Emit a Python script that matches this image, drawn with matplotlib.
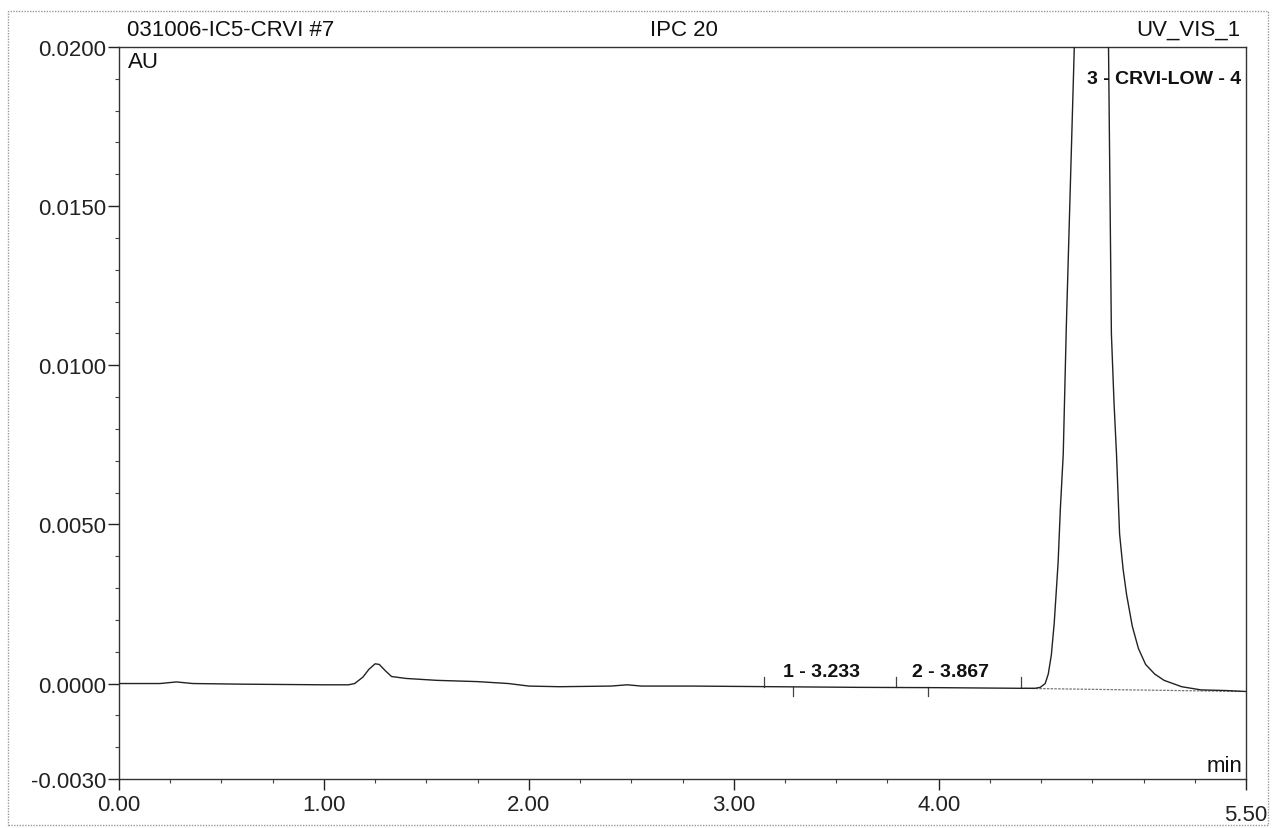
import numpy as np
import matplotlib.pyplot as plt
from matplotlib.patches import Rectangle
from matplotlib.ticker import MultipleLocator, FixedLocator

plt.rcParams['font.family'] = ['Liberation Sans', 'DejaVu Sans']

# Chromatogram trace (time in min, absorbance in AU)
time_min = [0.00, 0.20, 0.28, 0.36, 0.60, 1.00, 1.12, 1.15, 1.19, 1.22, 1.25,
            1.27, 1.30, 1.33, 1.40, 1.55, 1.75, 1.90, 2.00, 2.15, 2.40, 2.48,
            2.55, 2.80, 3.20, 3.60, 4.00, 4.40, 4.47, 4.496, 4.52, 4.535,
            4.55, 4.564, 4.583, 4.594, 4.608, 4.623, 4.662, 4.70, 4.745, 4.79,
            4.829, 4.843, 4.856, 4.868, 4.883, 4.90, 4.917, 4.945, 4.975,
            5.01, 5.054, 5.10, 5.186, 5.28, 5.40, 5.50]
signal_au = [0.0, 0.0, 0.00005, 0.0, -0.00002, -0.00004, -0.00004, 0.0,
             0.0002, 0.00045, 0.00062, 0.00060, 0.0004, 0.00022, 0.00016,
             0.0001, 0.00006, 0.0, -0.00008, -0.0001, -0.00008, -0.00004,
             -0.00008, -0.00008, -0.0001, -0.00012, -0.00013, -0.00015,
             -0.00015, -0.00012, 0.0, 0.0003, 0.0009, 0.0019, 0.0038, 0.0055,
             0.0072, 0.0112, 0.0200, 0.035, 0.042, 0.035, 0.0200, 0.0110,
             0.0088, 0.0072, 0.0047, 0.0036, 0.0028, 0.0018, 0.0011, 0.0006,
             0.0003, 0.0001, -0.0001, -0.0002, -0.00022, -0.00025]

# Peak annotations
peak_labels = ['1 - 3.233', '2 - 3.867']
peak_label_x = [3.43, 4.06]
peak_bounds = [3.15, 3.79, 4.40]
peak_marks = [3.29, 3.95]
big_peak_label = '3 - CRVI-LOW - 4'
big_peak_x = 4.726
big_peak_baseline = (4.40, 5.48, -0.00015, -0.00025)

fig = plt.figure(figsize=(12.73, 8.29), dpi=100)
ax = fig.add_axes([0.0935, 0.0591, 0.8853, 0.8830])

ax.plot(time_min, signal_au, color='#222222', linewidth=1.0, zorder=3)

# integration baseline of the big peak
b = big_peak_baseline
ax.plot([b[0], b[1]], [b[2], b[3]], color='#777777', linewidth=0.9,
        linestyle=(0, (2, 1)), zorder=2)

# peak boundary and retention markers
for xb in peak_bounds:
    ax.plot([xb, xb], [-0.00012, 0.0002], color='#444444', linewidth=0.9)
for xm in peak_marks:
    ax.plot([xm, xm], [-0.00012, -0.0004], color='#444444', linewidth=0.9)

for lab, xl in zip(peak_labels, peak_label_x):
    ax.text(xl, 0.00012, lab, ha='center', va='bottom', fontsize=14,
            fontweight='bold', color='#111111')
ax.text(big_peak_x, 0.0190, big_peak_label, ha='left', va='center',
        fontsize=14, fontweight='bold', color='#111111')

ax.set_xlim(0, 5.5)
ax.set_ylim(-0.003, 0.02)

ax.xaxis.set_major_locator(FixedLocator([0, 1, 2, 3, 4, 5.5]))
ax.xaxis.set_minor_locator(MultipleLocator(0.25))
ax.set_xticklabels(['0.00', '1.00', '2.00', '3.00', '4.00', '5.50'])
ax.yaxis.set_major_locator(FixedLocator([-0.003, 0.0, 0.005, 0.01, 0.015, 0.02]))
ax.yaxis.set_minor_locator(MultipleLocator(0.001))
ax.set_yticklabels(['-0.0030', '0.0000', '0.0050', '0.0100', '0.0150', '0.0200'])

ax.tick_params(axis='both', which='major', direction='out', length=8,
               width=1, labelsize=16, colors='#222222')
ax.tick_params(axis='both', which='minor', direction='out', length=3,
               width=0.8, colors='#444444')
ax.tick_params(axis='y', which='major', pad=1)
ax.tick_params(axis='x', which='major', pad=3)
ax.xaxis.get_major_ticks()[-1].set_pad(10)

for spine in ax.spines.values():
    spine.set_linewidth(1.0)
    spine.set_color('#333333')

# header and unit labels
ax.text(0.007, 1.010, '031006-IC5-CRVI #7', transform=ax.transAxes,
        ha='left', va='bottom', fontsize=16, color='#111111')
ax.text(0.501, 1.010, 'IPC 20', transform=ax.transAxes,
        ha='center', va='bottom', fontsize=16, color='#111111')
ax.text(0.995, 1.010, 'UV_VIS_1', transform=ax.transAxes,
        ha='right', va='bottom', fontsize=16, color='#111111')
ax.text(0.008, 0.995, 'AU', transform=ax.transAxes,
        ha='left', va='top', fontsize=16, color='#111111')
ax.text(0.997, 0.004, 'min', transform=ax.transAxes,
        ha='right', va='bottom', fontsize=16, color='#111111')

# outer frame of the printout
fig.patches.append(Rectangle((0.006, 0.004), 0.990, 0.982, transform=fig.transFigure,
                             fill=False, edgecolor='#999999', linewidth=1.0,
                             linestyle=(0, (1, 1))))

fig.savefig('out.png', dpi=100)
